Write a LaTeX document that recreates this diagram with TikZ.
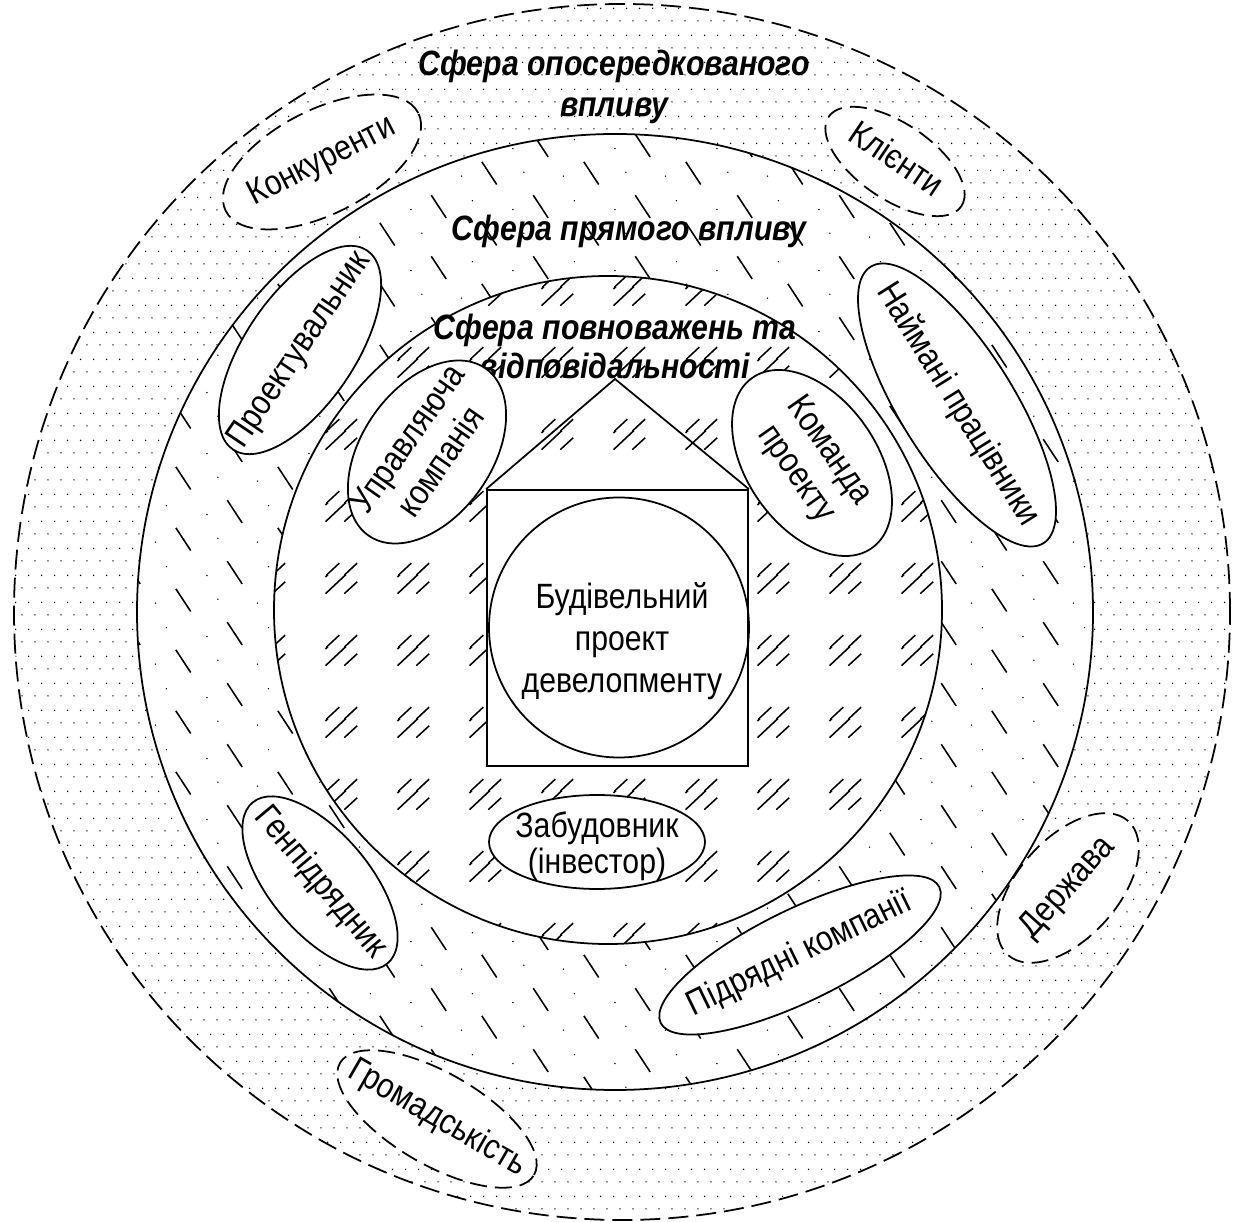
\documentclass[tikz,border=0pt]{standalone}
\usepackage{fontspec}
\setmainfont{Liberation Sans}[FakeStretch=0.86]
\usetikzlibrary{shapes.geometric, patterns.meta}

% text in rows, centred
\newcommand{\txtrows}[1]{\begin{tabular}{@{}c@{}}#1\end{tabular}}
% text that does not widen the ellipse round it
\newcommand{\eltext}[1]{\makebox[0pt]{\txtrows{#1}}}

% fill of the indirect sphere
\tikzdeclarepattern{
    name=tochky,
    type=uncolored,
    bounding box={(0cm,0cm) and (0.133cm,0.268cm)},
    tile size={(0.133cm,0.268cm)},
    code={
        \fill (0.094cm,0.132cm) circle (0.008cm);
        \fill (0.0275cm,0.258cm) circle (0.008cm);
    }
}

% fill of the direct sphere
\tikzdeclarepattern{
    name=rysky,
    type=uncolored,
    bounding box={(0cm,0cm) and (1.02cm,0.61cm)},
    tile size={(1.02cm,0.61cm)},
    code={
        \draw[line width=0.45pt] (0.745cm,0.235cm) -- (0.895cm,0.005cm);
        \draw[line width=0.45pt] (0.235cm,0.515cm) -- (0.385cm,0.285cm);
        \fill (0.54cm,0.09cm) circle (0.008cm);
        \fill (0.65cm,0.46cm) circle (0.008cm);
        \fill (0.03cm,0.37cm) circle (0.008cm);
        \fill (0.14cm,0.13cm) circle (0.008cm);
    }
}

% fill of the inner sphere
\tikzdeclarepattern{
    name=podviyni,
    type=uncolored,
    bounding box={(0cm,0cm) and (0.72cm,0.72cm)},
    tile size={(0.72cm,0.72cm)},
    code={
        \foreach \dx in {0,-0.72}{
            \foreach \dy in {0,-0.72}{
                \begin{scope}[shift={(\dx cm,\dy cm)}, line width=0.45pt]
                    \draw (0.38cm,0.53cm) -- (0.70cm,0.83cm);
                    \draw (0.38cm,0.70cm) -- (0.52cm,0.83cm);
                    \draw (0.57cm,0.53cm) -- (0.70cm,0.65cm);
                \end{scope}
            }
        }
    }
}

\begin{document}
\begin{tikzpicture}[
    every node/.style={font=\fontsize{10}{12}\selectfont},
    kolo/.style={
        draw=black,
        line width=0.5pt
    },
    punktyr/.style={
        dash pattern=on 0.17cm off 0.08cm
    },
    uchasnyk/.style={
        ellipse,
        draw=black,
        line width=0.5pt,
        fill=white,
        inner sep=0pt
    },
    zovnishnij/.style={
        uchasnyk,
        punktyr
    },
    sfera/.style={
        font=\fontsize{10}{11.4}\selectfont\bfseries\itshape
    }
]

\useasboundingbox (0,0) rectangle (12.36,12.21);

\coordinate (outerc) at (6.22,6.09);
\coordinate (midc) at (6.15,6.09);
\coordinate (innc) at (6.08,6.11);

% ============================================================
% Fills of the three spheres
% ============================================================

\fill[pattern=tochky] (outerc) circle (6.08);

\fill[white] (midc) circle (4.78);
\fill[pattern=rysky] (midc) circle (4.78);

\fill[white] (innc) circle (3.34);
\fill[pattern=podviyni] (innc) circle (3.34);

% Borders
\draw[kolo, dash pattern=on 0.2cm off 0.08cm] (outerc) circle (6.08);
\draw[kolo] (midc) circle (4.78);
\draw[kolo] (innc) circle (3.34);

% ============================================================
% Project (house)
% ============================================================

\node[
    kolo,
    fill=white,
    minimum width=2.61cm,
    minimum height=2.76cm
] (house) at (6.175,5.93) {};

\coordinate (roof) at (6.15,8.42);
\draw[kolo] (house.north west) -- (roof) -- (house.north east);

\node[
    kolo,
    circle,
    minimum size=2.6cm
] (proj) at (6.19,5.935) {};

\node[
    font=\fontsize{10}{11.9}\selectfont
] (projtext) at (6.22,5.79)
{\txtrows{Будівельний\\проект\\девелопменту}};

% ============================================================
% Sphere titles
% ============================================================

\node[sfera] (t1) at (6.14,11.33)
{\txtrows{Сфера опосередкованого\\впливу}};

\node[sfera] (t2) at (6.29,9.89)
{\txtrows{Сфера прямого впливу}};

\node[
    sfera,
    font=\fontsize{10}{11.3}\selectfont\bfseries\itshape
] (t3) at (6.15,8.70)
{\txtrows{Сфера повноважень та\\відповідальності}};

% ============================================================
% Participants
% ============================================================

% inner sphere
\node[uchasnyk, rotate=55, minimum width=2.04cm, minimum height=1.30cm,
    font=\fontsize{10}{11.5}\selectfont]
    (uprav) at (4.27,7.69) {\eltext{Управляюча\\компанія}};

\node[uchasnyk, rotate=-55, minimum width=2.08cm, minimum height=1.30cm,
    font=\fontsize{10}{11.5}\selectfont]
    (koman) at (8.12,7.58) {\eltext{Команда\\проекту}};

\node[uchasnyk, minimum width=2.16cm, minimum height=0.94cm,
    font=\fontsize{10}{10}\selectfont]
    (zabud) at (5.97,3.79)
    {\raisebox{-0.148cm}[0pt][0pt]{\eltext{Забудовник\\(інвестор)}}};

% direct sphere
\node[uchasnyk, rotate=56, minimum width=2.40cm, minimum height=1.10cm]
    (proekt) at (3.00,8.71) {\eltext{Проектувальник}};

\node[uchasnyk, rotate=-58, minimum width=3.26cm, minimum height=1.14cm]
    (naim) at (9.57,8.16) {\eltext{Наймані працівники}};

\node[uchasnyk, rotate=-50, minimum width=2.10cm, minimum height=1.00cm]
    (genp) at (3.20,3.38) {\eltext{Генпідрядник}};

\node[uchasnyk, rotate=26, minimum width=3.10cm, minimum height=0.92cm]
    (pidr) at (8.00,2.66) {\eltext{Підрядні компанії}};

% indirect sphere
\node[zovnishnij, rotate=27, minimum width=2.16cm, minimum height=1.04cm]
    (konk) at (3.22,10.59) {\eltext{Конкуренти}};

\node[zovnishnij, rotate=-34, minimum width=1.60cm, minimum height=0.76cm]
    (klient) at (8.95,10.595) {\eltext{Клієнти}};

\node[zovnishnij, rotate=48, minimum width=1.80cm, minimum height=1.00cm]
    (derzh) at (10.68,3.33) {\eltext{Держава}};

\node[zovnishnij, rotate=-30, minimum width=2.24cm, minimum height=0.92cm]
    (hromad) at (4.37,1.02) {\eltext{Громадськість}};

\end{tikzpicture}
\end{document}
